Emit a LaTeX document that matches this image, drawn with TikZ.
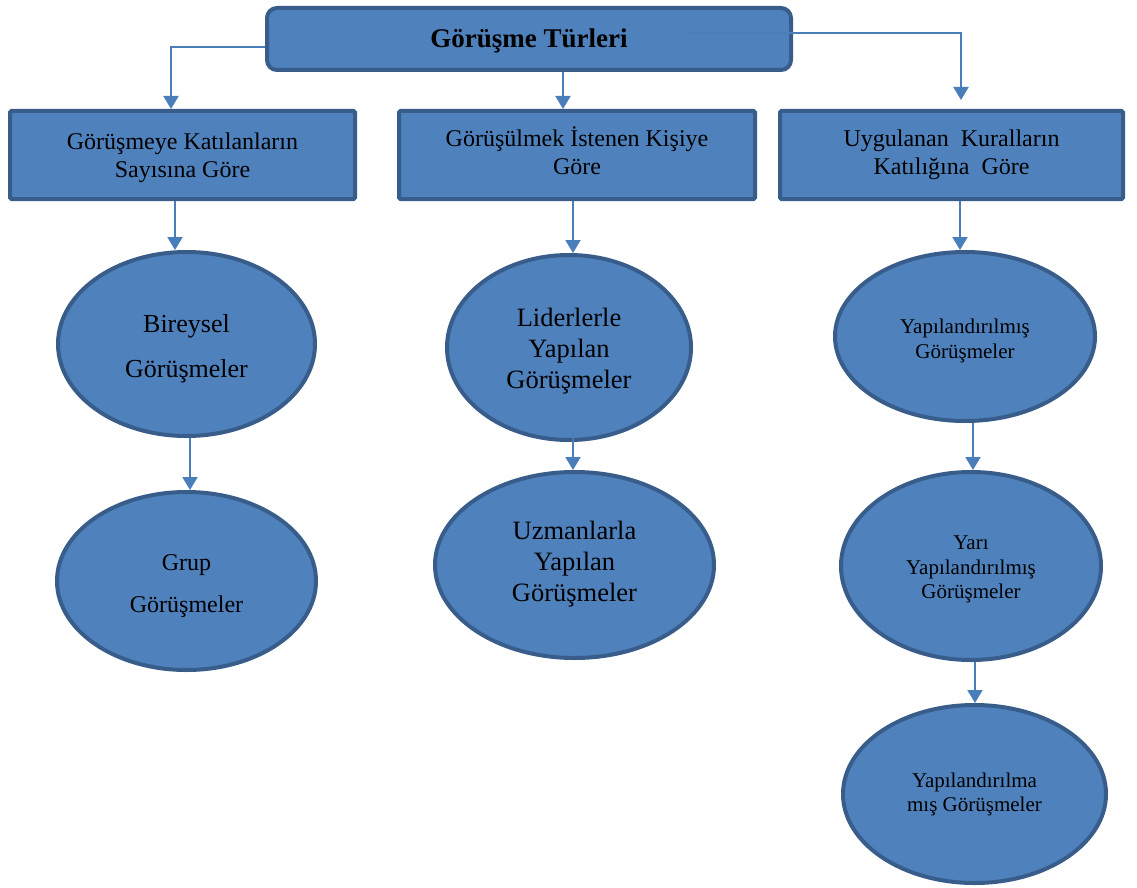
\documentclass[tikz,border=0pt]{standalone}
\usepackage{fontspec}
\setmainfont{Liberation Serif}
\usetikzlibrary{shapes.geometric,arrows.meta}
\definecolor{boxfill}{HTML}{4F81BD}
\definecolor{boxline}{HTML}{385D8A}
\definecolor{conncol}{HTML}{4A7EBB}
% lines of text, lowered by #1 without changing the box used for centring
\newcommand{\txtlines}[2]{\raisebox{-#1}[\height][\depth]{\begin{tabular}{@{}c@{}}#2\end{tabular}}}
\tikzset{
  topbox/.style={draw=boxline,line width=4pt,fill=boxfill,rounded corners=10pt,minimum width=524pt,minimum height=62pt,inner sep=0pt,font=\bfseries\fontsize{27}{32}\selectfont},
  catbox/.style={draw=boxline,line width=4pt,fill=boxfill,rounded corners=1.5pt,minimum height=88pt,inner sep=0pt,font=\fontsize{24}{28.5}\selectfont},
  ell/.style={ellipse,draw=boxline,line width=4pt,fill=boxfill,inner sep=0pt},
  conn/.style={draw=conncol,line width=2pt,-{Triangle[width=15pt,length=13pt]}}
}
\begin{document}
\begin{tikzpicture}[x=1pt,y=-1pt]
\useasboundingbox (0,0) rectangle (1137,888);
\fill[white] (0,0) rectangle (1137,888);
% nodes
\node[topbox] (top) at (529,39) {\txtlines{2.6pt}{Görüşme Türleri}};
\node[catbox,minimum width=345pt] (b1) at (182.5,155) {\txtlines{3pt}{Görüşmeye Katılanların\\Sayısına Göre}};
\node[catbox,minimum width=356pt] (b2) at (577,155) {\txtlines{0pt}{Görüşülmek İstenen Kişiye\\Göre}};
\node[catbox,minimum width=343pt] (b3) at (951.5,155) {\txtlines{0pt}{Uygulanan\ \ Kuralların\\Katılığına\ \ Göre}};
\node[ell,minimum width=257pt,minimum height=184pt,font=\fontsize{26}{45}\selectfont] (e1) at (186.5,344) {\txtlines{1.5pt}{Bireysel\\Görüşmeler}};
\node[ell,minimum width=259pt,minimum height=178pt,font=\fontsize{24}{42}\selectfont] (e2) at (186.5,581) {\txtlines{2pt}{Grup\\Görüşmeler}};
\node[ell,minimum width=244pt,minimum height=185pt,font=\fontsize{26.5}{31}\selectfont] (e3) at (569,347.5) {\txtlines{3.5pt}{Liderlerle\\Yapılan\\Görüşmeler}};
\node[ell,minimum width=279pt,minimum height=186pt,font=\fontsize{26.5}{31}\selectfont] (e4) at (574.5,565) {\txtlines{-0.5pt}{Uzmanlarla\\Yapılan\\Görüşmeler}};
\node[ell,minimum width=260pt,minimum height=169pt,font=\fontsize{21}{25}\selectfont] (e5) at (965,336.5) {\txtlines{4.2pt}{Yapılandırılmış\\Görüşmeler}};
\node[ell,minimum width=260pt,minimum height=188pt,font=\fontsize{21}{24.5}\selectfont] (e6) at (971,566) {\txtlines{3.1pt}{Yarı\\Yapılandırılmış\\Görüşmeler}};
\node[ell,minimum width=263pt,minimum height=178pt,font=\fontsize{21}{24}\selectfont] (e7) at (974.5,794) {\txtlines{1pt}{Yapılandırılma\\mış Görüşmeler}};
\coordinate (c3end) at (961,100);
% connectors
\draw[conn] ([yshift=-8pt]top.west) -| ([xshift=-11.5pt]b1.north);
\draw[conn] ([xshift=34pt]top.south) -- ([xshift=-14pt]b2.north);
\draw[conn] ([xshift=161pt,yshift=6pt]top.center) -| (c3end);
\draw[conn] ([xshift=-7.5pt]b1.south) -- ([xshift=-7.5pt]b1.south |- e1.north);
\draw[conn] ([xshift=3.5pt]e1.south) -- ([xshift=3.5pt]e1.south |- e2.north);
\draw[conn] ([xshift=-4pt]b2.south) -- ([xshift=-4pt]b2.south |- e3.north);
\draw[conn] ([xshift=4pt,yshift=12pt]e3.south) -- ([xshift=4pt]e3.south |- e4.north);
\draw[conn] ([xshift=8.5pt]b3.south) -- ([xshift=8.5pt]b3.south |- e5.north);
\draw[conn] ([xshift=8pt]e5.south) -- ([xshift=8pt]e5.south |- e6.north);
\draw[conn] ([xshift=4pt]e6.south) -- ([xshift=4pt]e6.south |- e7.north);
\end{tikzpicture}
\end{document}
